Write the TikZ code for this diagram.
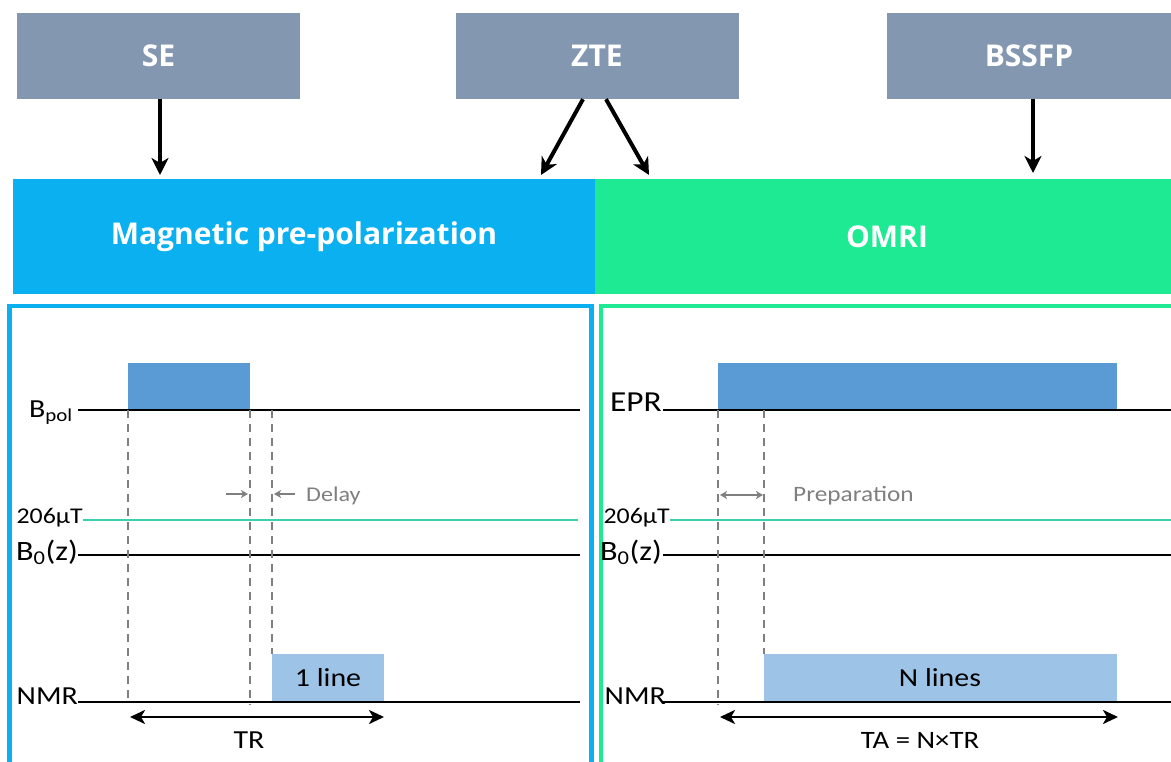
\documentclass[tikz,border=0pt]{standalone}
\usepackage{fontspec}
\setmainfont{Carlito}
\newfontfamily\headfont{Open Sans}
\newfontfamily\lblfont{Carlito}[FakeStretch=1.15]
\usetikzlibrary{arrows.meta}
\definecolor{boxgray}{HTML}{8497B0}
\definecolor{mpblue}{HTML}{0AB0F0}
\definecolor{omgreen}{HTML}{1DEA92}
\definecolor{pulseblue}{HTML}{5B9BD5}
\definecolor{lightpulse}{HTML}{9DC3E6}
\definecolor{tealline}{HTML}{3CCFB0}
\definecolor{dgray}{HTML}{7F7F7F}
\newcommand{\fsz}[1]{\fontsize{#1}{#1}\selectfont}
\begin{document}
\begin{tikzpicture}[x=1pt,y=-1pt,
  seqbox/.style={fill=boxgray, minimum width=283, minimum height=86, inner sep=0,
    font=\headfont\bfseries\fsz{30}, text=white},
  bannertext/.style={inner sep=0, font=\headfont\bfseries\fsz{30}, text=white},
  bigarrow/.style={line width=4, -{Stealth[length=17,width=17,inset=5]}},
  sig/.style={line width=2, black},
  tsig/.style={line width=2, tealline},
  lbl/.style={font=\lblfont\fsz{26}, inner sep=0},
  glbl/.style={font=\lblfont\fsz{22}, inner sep=0, text=dgray},
  dashline/.style={line width=1.5, dgray, dash pattern=on 8pt off 6pt},
  tarrow/.style={line width=2.5, {Stealth[length=15,width=14,inset=4]}-{Stealth[length=15,width=14,inset=4]}},
  garrow/.style={line width=1.5, dgray, -{Stealth[length=7,width=8,inset=2]}},
  gdarrow/.style={line width=1.5, dgray, {Stealth[length=7,width=8,inset=2]}-{Stealth[length=7,width=8,inset=2]}},
]
\useasboundingbox (0,0) rectangle (1171,762);

% sequence boxes
\node[seqbox] (se) at (158.5,56) {SE};
\node[seqbox] (zte) at (597,56) {ZTE};
\node[seqbox, minimum width=284] (bssfp) at (1029,56) {BSSFP};

% banners
\fill[mpblue] (13,179) rectangle (595,294);
\fill[omgreen] (595,179) rectangle (1171,294);
\node[bannertext] (mp) at (304,237) {Magnetic pre-polarization};
\node[bannertext] (omri) at (887,237) {OMRI};

% arrows
\coordinate (seend) at (160,175);
\coordinate (zteL) at (541,175);
\coordinate (zteR) at (649,175);
\coordinate (bend) at (1033,173);
\draw[bigarrow] (se.south -| seend) -- (seend);
\draw[bigarrow] ([xshift=-14]zte.south) -- (zteL);
\draw[bigarrow] ([xshift=9]zte.south) -- (zteR);
\draw[bigarrow] (bssfp.south -| bend) -- (bend);

% panel borders
\draw[mpblue, line width=4.5] (9.5,765) -- (9.5,306) -- (591.5,306) -- (591.5,765);
\draw[omgreen, line width=4] (601,765) -- (601,306) -- (1175,306);

% ---------- left panel ----------
\fill[pulseblue] (128,363) rectangle (250,410);
\fill[lightpulse] (272,654) rectangle (384,702);
\node[lbl] at (328,678) (oneline) {1 line};

\node[lbl, anchor=base east] (bpol) at (73,417) {B\textsubscript{pol}};
\node[lbl, anchor=base east, font=\lblfont\fsz{22.5}] (t206l) at (83,523) {206µT};
\node[lbl, anchor=base east, font=\lblfont\fsz{28}] (b0l) at (78,560) {B\textsubscript{0}(z)};
\node[lbl, anchor=base east] (nmrl) at (78,704) {NMR};

\draw[sig] (78,410) -- (580,410);
\draw[tsig] (83,520) -- (578,520);
\draw[sig] (78,555) -- (580,555);
\draw[sig] (78,702) -- (580,702);

\draw[dashline] (128,410) -- (128,700);
\draw[dashline] (250,410) -- (250,705);
\draw[dashline] (272,410) -- (272,654);

\coordinate (dl1) at (226,494);
\coordinate (dl2) at (248,494);
\coordinate (dr1) at (295,494);
\coordinate (dr2) at (274,494);
\draw[garrow] (dl1) -- (dl2);
\draw[garrow] (dr1) -- (dr2);
\node[glbl, anchor=base west, font=\lblfont\fsz{21}] (delay) at (306,501) {Delay};

\coordinate (trA) at (130,717);
\coordinate (trB) at (384,717);
\draw[tarrow] (trA) -- (trB);
\node[lbl] (tr) at (249,740) {TR};

% ---------- right panel ----------
\fill[pulseblue] (718,363) rectangle (1117,410);
\fill[lightpulse] (764,654) rectangle (1117,702);
\node[lbl] (nlines) at (940,678) {N lines};

\node[lbl, anchor=base east, font=\lblfont\fsz{29}] (epr) at (662,411) {EPR};
\node[lbl, anchor=base east, font=\lblfont\fsz{22.5}] (t206r) at (670,523) {206µT};
\node[lbl, anchor=base east, font=\lblfont\fsz{28}] (b0r) at (662,560) {B\textsubscript{0}(z)};
\node[lbl, anchor=base east] (nmrr) at (666,704) {NMR};

\draw[sig] (663,410) -- (1171,410);
\draw[tsig] (670,520) -- (1171,520);
\draw[sig] (663,555) -- (1171,555);
\draw[sig] (663,702) -- (1171,702);

\draw[dashline] (718,410) -- (718,705);
\draw[dashline] (764,410) -- (764,654);

\coordinate (pA) at (720,495);
\coordinate (pB) at (763,495);
\draw[gdarrow] (pA) -- (pB);
\node[glbl, anchor=base west] (prep) at (793,501) {Preparation};

\coordinate (taA) at (720,717);
\coordinate (taB) at (1118,717);
\draw[tarrow] (taA) -- (taB);
\node[lbl, font=\lblfont\fsz{25}] (ta) at (920,740) {TA = N×TR};
\end{tikzpicture}
\end{document}
